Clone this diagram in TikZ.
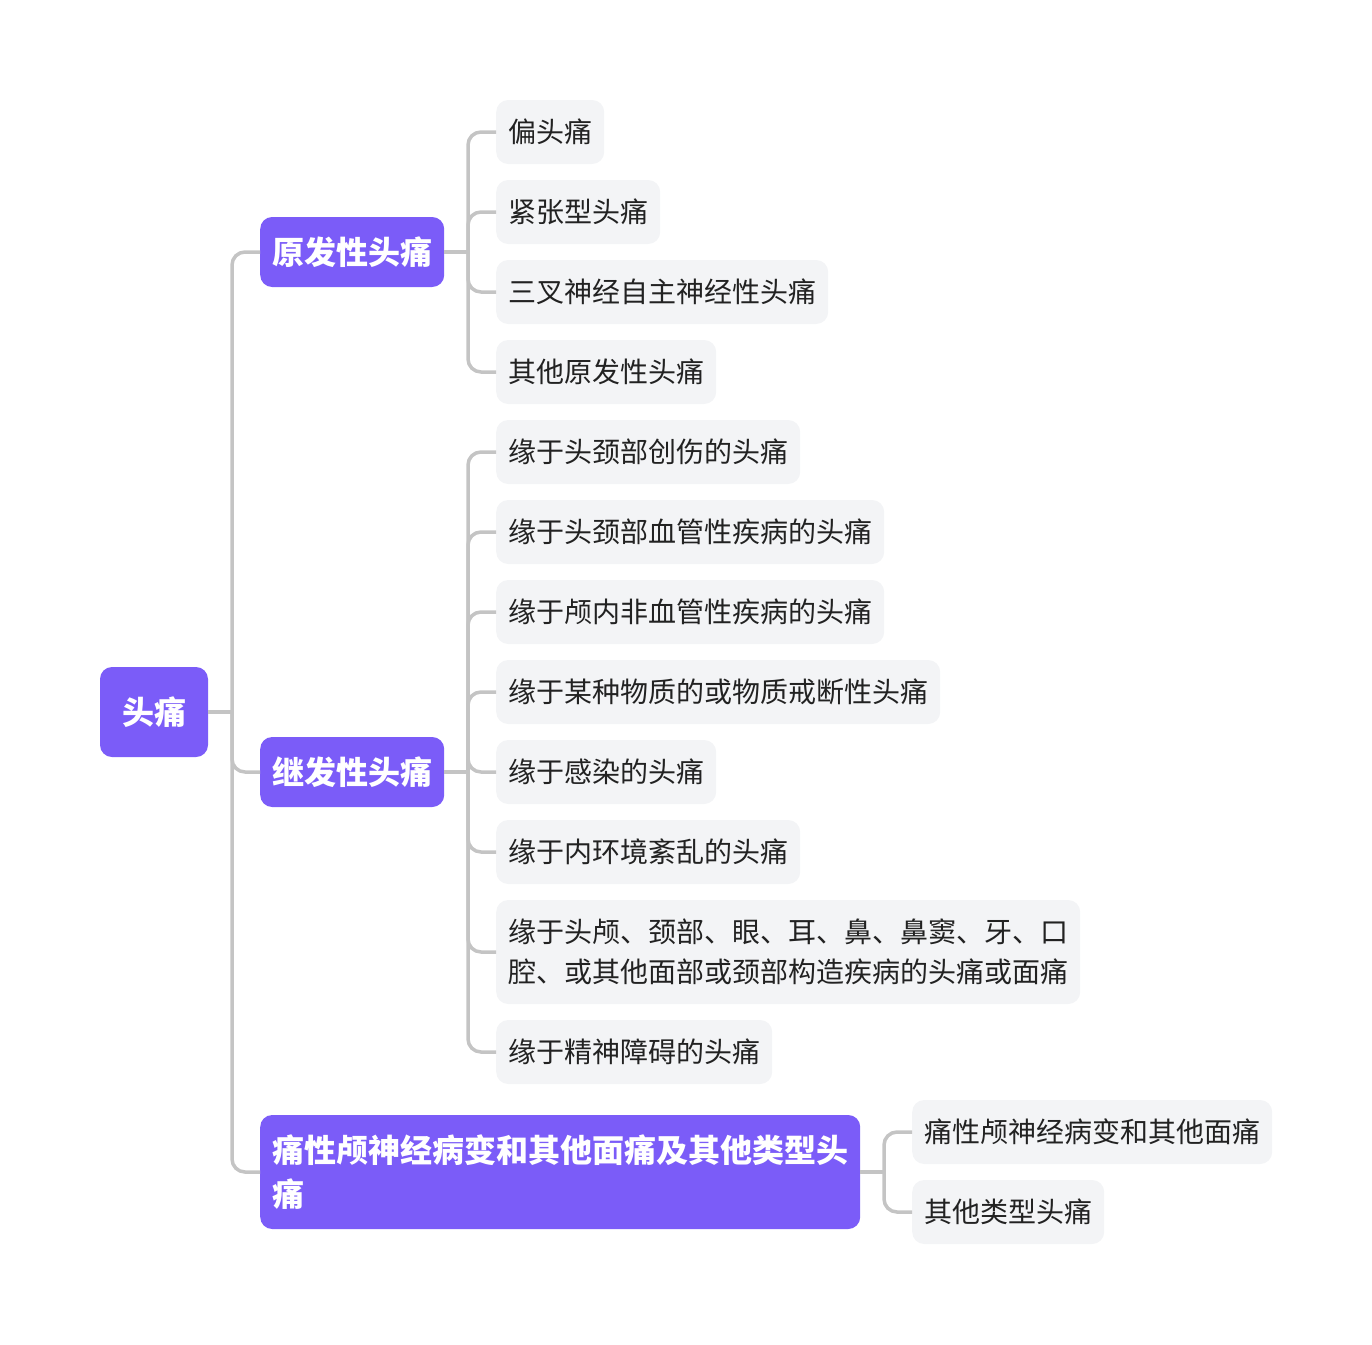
\documentclass[tikz,border=0pt]{standalone}
\usepackage{fontspec}
\setmainfont{Noto Sans CJK SC}
\definecolor{mapPurple}{HTML}{7B5CF8}
\definecolor{mapLeaf}{HTML}{F3F4F6}
\definecolor{mapLink}{HTML}{C4C4C4}
\definecolor{mapText}{HTML}{222222}
\begin{document}
\begin{tikzpicture}[x=1pt, y=-1pt,
        root/.style={rectangle, rounded corners=12pt, fill=mapPurple, text=white, font=\fontsize{32}{44}\selectfont\bfseries, minimum width=108pt, minimum height=90pt, inner sep=0pt, text height=28.2pt, text depth=3.8pt},
        topic/.style={rectangle, rounded corners=12pt, fill=mapPurple, text=white, font=\fontsize{32}{44}\selectfont\bfseries, anchor=west, inner xsep=12pt, minimum height=70pt},
        leaf/.style={rectangle, rounded corners=12pt, fill=mapLeaf, text=mapText, font=\fontsize{28}{40}\selectfont, anchor=west, inner xsep=12pt, minimum height=64pt},
        one/.style={text height=24.6pt, text depth=3.4pt},
        onebig/.style={text height=28.2pt, text depth=3.8pt},
        line/.style={draw=mapLink, line width=3.5pt, rounded corners=13pt}
    ]
        \useasboundingbox (0,0) rectangle (1372,1344);

        \node[root] (head) at (154, 712) {头痛};

        \node[topic, onebig] (prim) at (260, 252) {原发性头痛};
        \node[topic, onebig] (sec) at (260, 772) {继发性头痛};
        \node[topic, align=left, inner ysep=12pt, minimum height=114pt] (face) at (260, 1172) {痛性颅神经病变和其他面痛及其他类型头\\痛};

        \node[leaf, one] (p1) at (496, 132) {偏头痛};
        \node[leaf, one] (p2) at (496, 212) {紧张型头痛};
        \node[leaf, one] (p3) at (496, 292) {三叉神经自主神经性头痛};
        \node[leaf, one] (p4) at (496, 372) {其他原发性头痛};

        \node[leaf, one] (s1) at (496, 452) {缘于头颈部创伤的头痛};
        \node[leaf, one] (s2) at (496, 532) {缘于头颈部血管性疾病的头痛};
        \node[leaf, one] (s3) at (496, 612) {缘于颅内非血管性疾病的头痛};
        \node[leaf, one] (s4) at (496, 692) {缘于某种物质的或物质戒断性头痛};
        \node[leaf, one] (s5) at (496, 772) {缘于感染的头痛};
        \node[leaf, one] (s6) at (496, 852) {缘于内环境紊乱的头痛};
        \node[leaf, align=left, minimum height=104pt] (s7) at (496, 952) {缘于头颅、颈部、眼、耳、鼻、鼻窦、牙、口\\腔、或其他面部或颈部构造疾病的头痛或面痛};
        \node[leaf, one] (s8) at (496, 1052) {缘于精神障碍的头痛};

        \node[leaf, one] (f1) at (912, 1132) {痛性颅神经病变和其他面痛};
        \node[leaf, one] (f2) at (912, 1212) {其他类型头痛};

        % branch joints
        \coordinate (jh) at (232, 712);
        \coordinate (jp) at (468, 252);
        \coordinate (js) at (468, 772);
        \coordinate (jf) at (884, 1172);

        \draw[line] (head.east) -- (jh);
        \draw[line] (prim.east) -- (jp);
        \draw[line] (sec.east) -- (js);
        \draw[line] (face.east) -- (jf);

        \foreach \t in {prim, sec, face}
            \draw[line] (jh) |- (\t.west);
        \foreach \t in {p1, p2, p3, p4}
            \draw[line] (jp) |- (\t.west);
        \foreach \t in {s1, s2, s3, s4, s5, s6, s7, s8}
            \draw[line] (js) |- (\t.west);
        \foreach \t in {f1, f2}
            \draw[line] (jf) |- (\t.west);
    \end{tikzpicture}
\end{document}
